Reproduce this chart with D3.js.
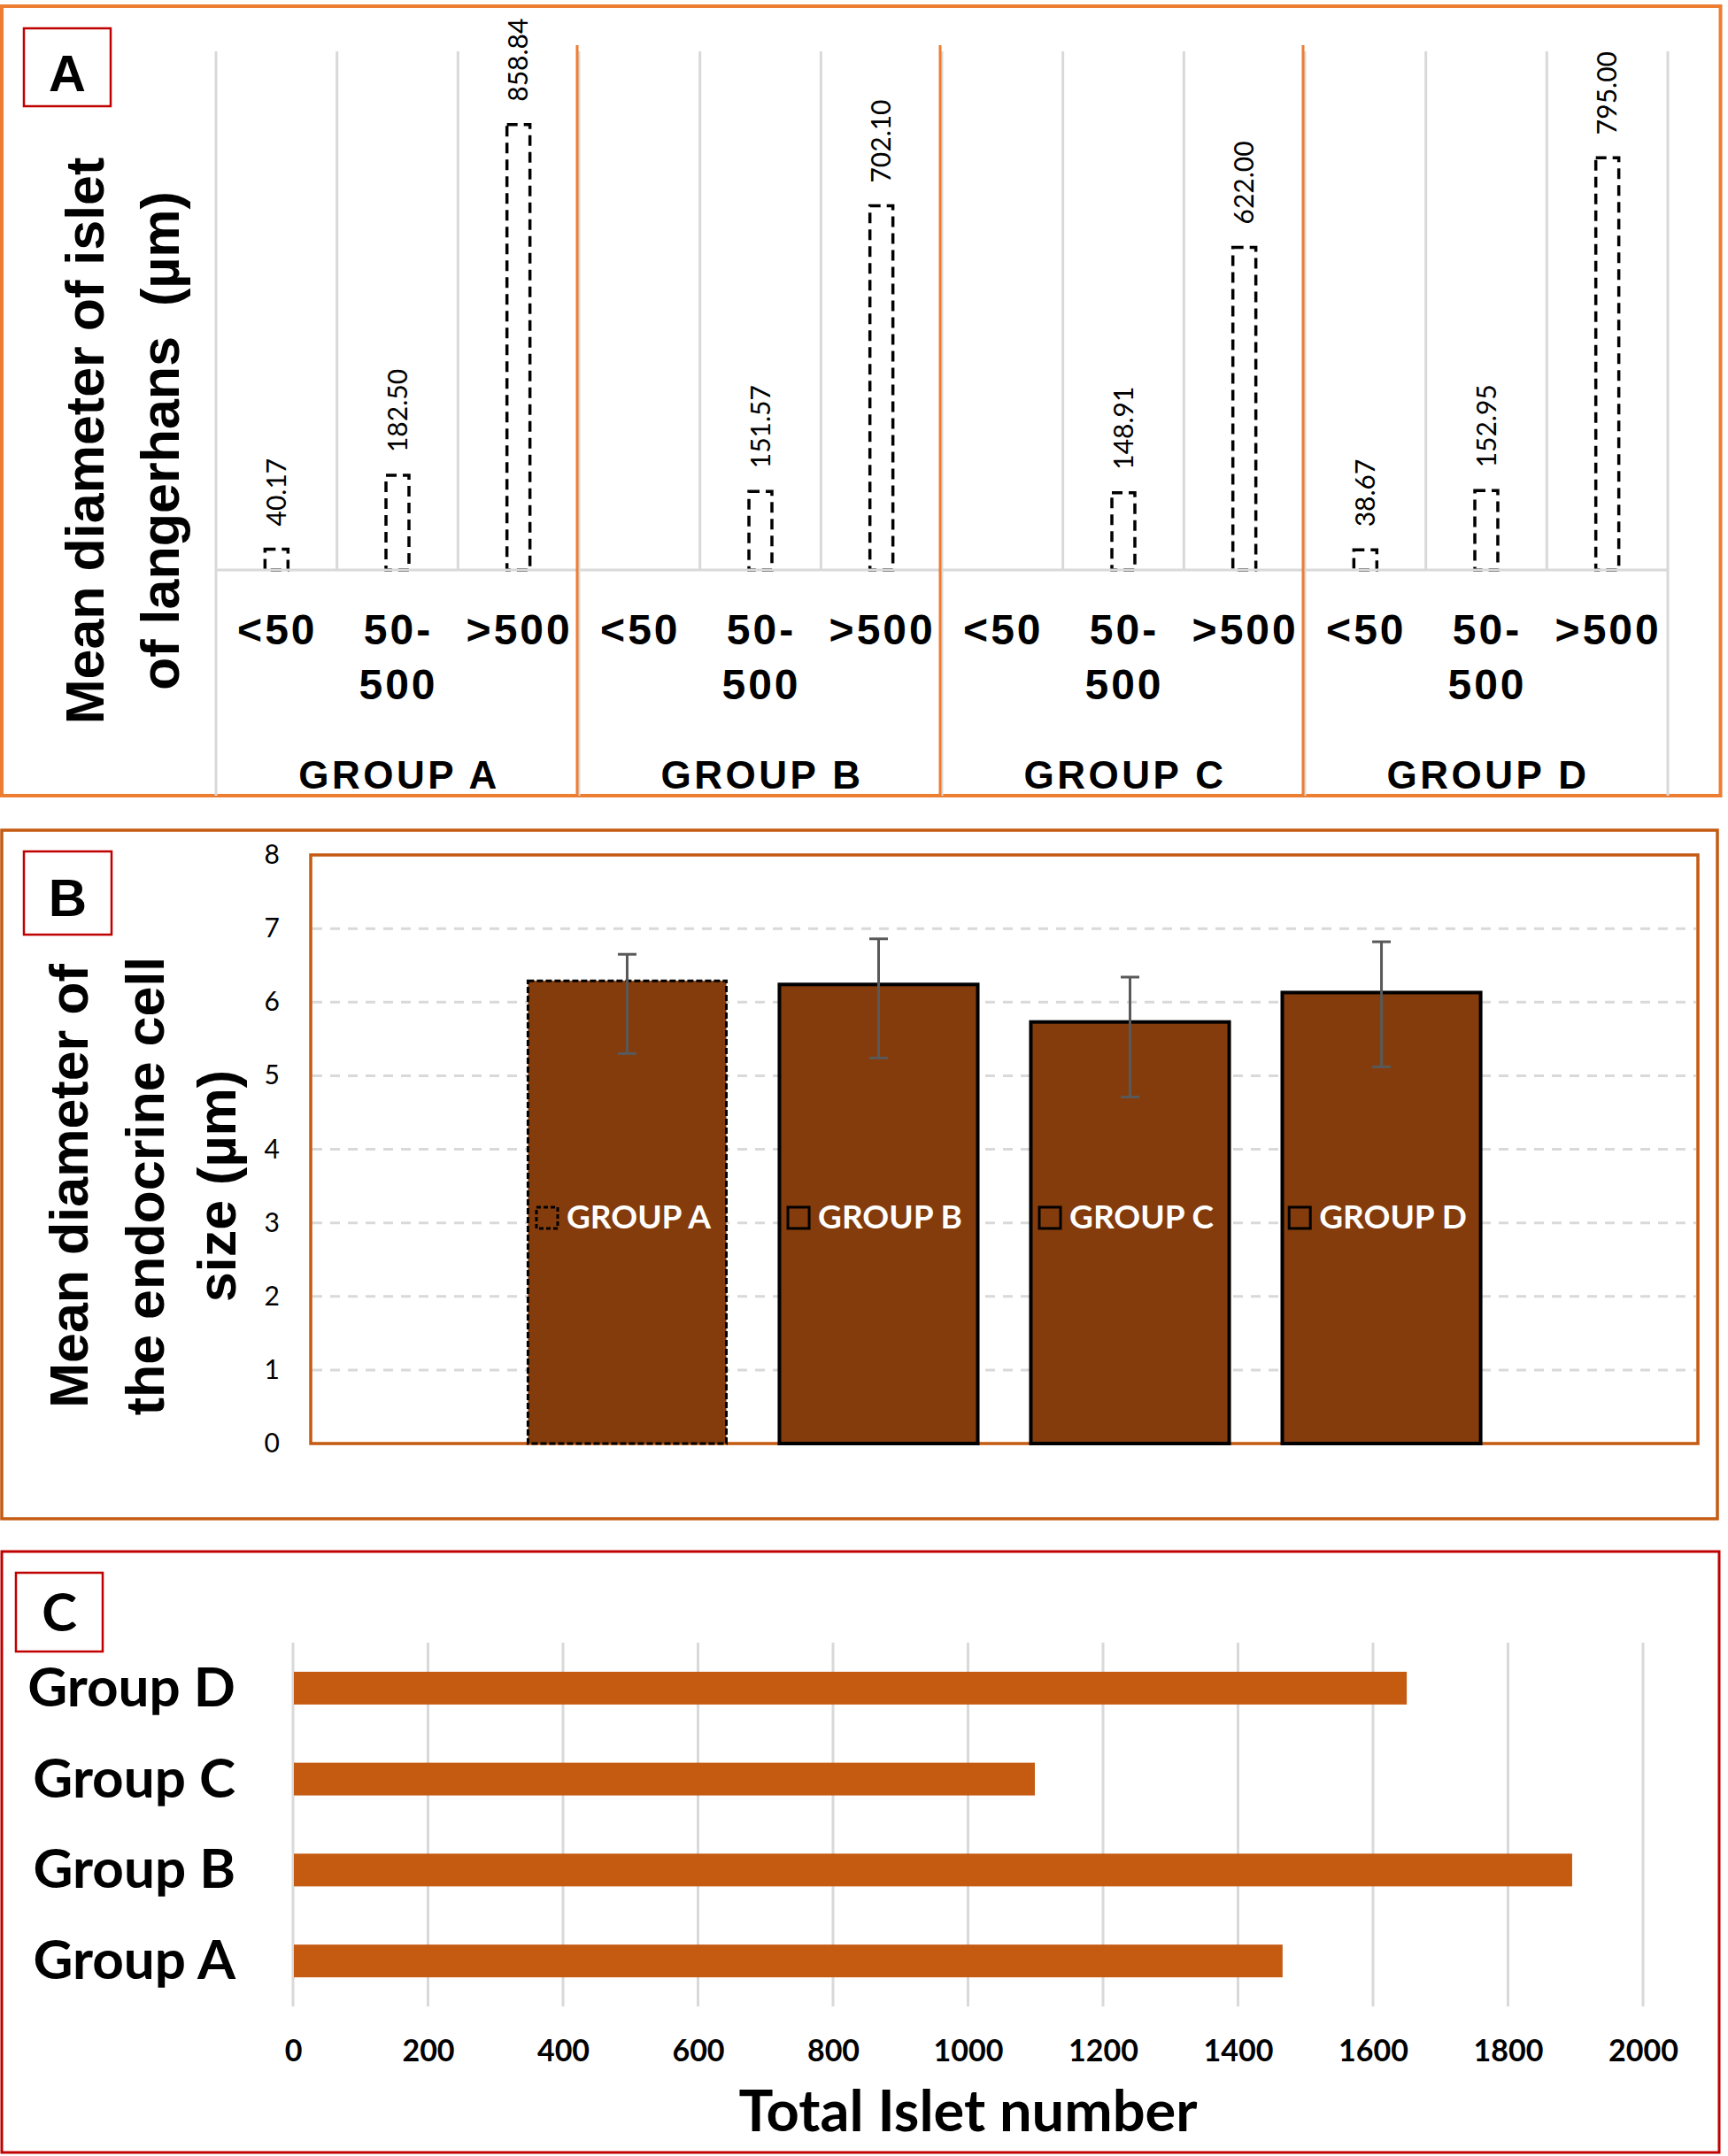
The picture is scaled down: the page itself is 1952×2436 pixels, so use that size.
<!DOCTYPE html>
<html>
<head>
<meta charset="utf-8">
<script src="https://cdn.jsdelivr.net/npm/d3@7"></script>
<style>
  html, body { margin: 0; padding: 0; background: #ffffff; }
  svg { display: block; }
</style>
</head>
<body>
<div id="chart"></div>
<script>
// ---------------- DATA ----------------
// Panel A: mean diameter of islet of langerhans (µm) by size bin
const groupsA = ["GROUP A", "GROUP B", "GROUP C", "GROUP D"];
const binsA = ["<50", "50-500", ">500"];
const binLabelLines = [["<50"], ["50-", "500"], [">500"]];
const isletLt50 = [40.17, null, null, 38.67];
const islet50to500 = [182.50, 151.57, 148.91, 152.95];
const isletGt500 = [858.84, 702.10, 622.00, 795.00];
const yDomainA = [0, 1000];

// Panel B: mean diameter of the endocrine cell size (µm)
const groupsB = ["GROUP A", "GROUP B", "GROUP C", "GROUP D"];
const cellSize = [6.29, 6.24, 5.73, 6.13];
const cellErrHigh = [6.65, 6.86, 6.34, 6.82];
const cellErrLow = [5.30, 5.24, 4.71, 5.12];
const yTicksB = [0, 1, 2, 3, 4, 5, 6, 7, 8];

// Panel C: total islet number
const groupsC = ["Group D", "Group C", "Group B", "Group A"];
const isletCount = [1650, 1099, 1895, 1466];
const xTicksC = [0, 200, 400, 600, 800, 1000, 1200, 1400, 1600, 1800, 2000];

// ---------------- SETUP ----------------
const W = 1952, H = 2436;
const ARIAL = "'Liberation Sans', Arial, Helvetica, sans-serif";
const CALIBRI = "Lato, Carlito, Calibri, sans-serif";
const svg = d3.select("#chart").append("svg")
  .attr("width", W).attr("height", H)
  .attr("viewBox", `0 0 ${W} ${H}`);
svg.append("rect").attr("width", W).attr("height", H).attr("fill", "#ffffff");

function labelBox(x, y, w, h, letter, font, size, baseline) {
  svg.append("rect").attr("x", x).attr("y", y).attr("width", w).attr("height", h)
    .attr("fill", "#ffffff").attr("stroke", "#C00000").attr("stroke-width", 2.5);
  svg.append("text").attr("x", x + w / 2).attr("y", baseline)
    .attr("text-anchor", "middle").attr("font-family", font)
    .attr("font-weight", "bold").attr("font-size", size).attr("fill", "#000")
    .text(letter);
}

// ---------------- PANEL A ----------------
(function () {
  const pA = svg.append("g");
  pA.append("rect").attr("x", 2).attr("y", 7).attr("width", 1941.5).attr("height", 892)
    .attr("fill", "none").attr("stroke", "#ED7D31").attr("stroke-width", 4);

  const top = 58, base = 644, bottom = 899;
  const gx = d3.scaleBand().domain(groupsA).range([244, 1884]).paddingInner(0).paddingOuter(0);
  const bx = d3.scaleBand().domain(binsA).range([0, gx.bandwidth()])
    .paddingInner(0.81).paddingOuter(0.405);
  const y = d3.scaleLinear().domain(yDomainA).range([base, top]);

  // gridlines
  groupsA.forEach((g, gi) => {
    for (let i = 0; i < 3; i++) {
      const x = gx(g) + i * bx.step();
      pA.append("line").attr("x1", x).attr("x2", x)
        .attr("y1", top).attr("y2", i === 0 ? bottom : base)
        .attr("stroke", "#D9D9D9").attr("stroke-width", 3);
    }
  });
  const xEnd = gx.range()[1];
  pA.append("line").attr("x1", xEnd).attr("x2", xEnd).attr("y1", top).attr("y2", bottom)
    .attr("stroke", "#D9D9D9").attr("stroke-width", 3);

  // bars
  const series = [isletLt50, islet50to500, isletGt500];
  groupsA.forEach((g, gi) => {
    binsA.forEach((b, bi) => {
      const v = series[bi][gi];
      if (v === null || v === undefined) return;
      const x0 = gx(g) + bx(b);
      const w = bx.bandwidth();
      pA.append("rect").attr("x", x0).attr("y", y(v)).attr("width", w).attr("height", base - y(v))
        .attr("fill", "#ffffff").attr("stroke", "#000").attr("stroke-width", 3.5)
        .attr("stroke-dasharray", "12,7");
      const cx = x0 + w / 2;
      pA.append("text")
        .attr("transform", `translate(${cx},${y(v) - 26}) rotate(-90)`)
        .attr("dy", "0.36em").attr("text-anchor", "start")
        .attr("font-family", CALIBRI).attr("font-size", 30).attr("fill", "#000")
        .text(d3.format(".2f")(v));
    });
  });

  // baseline
  pA.append("line").attr("x1", gx.range()[0]).attr("x2", xEnd).attr("y1", base).attr("y2", base)
    .attr("stroke", "#D9D9D9").attr("stroke-width", 3);

  // group separators (orange)
  groupsA.slice(1).forEach(g => {
    const x = gx(g) - 2;
    pA.append("line").attr("x1", x).attr("x2", x).attr("y1", 51).attr("y2", bottom)
      .attr("stroke", "#ED7D31").attr("stroke-width", 3);
  });

  // category labels
  groupsA.forEach(g => {
    binsA.forEach((b, bi) => {
      const cx = gx(g) + bx(b) + bx.bandwidth() / 2 + 1;
      binLabelLines[bi].forEach((line, li) => {
        pA.append("text").attr("x", cx).attr("y", 728 + li * 62)
          .attr("text-anchor", "middle").attr("font-family", ARIAL).attr("font-weight", "bold")
          .attr("font-size", 48).attr("letter-spacing", 3).attr("fill", "#000")
          .text(line);
      });
    });
    pA.append("text").attr("x", gx(g) + gx.bandwidth() / 2 + 2).attr("y", 891)
      .attr("text-anchor", "middle").attr("font-family", ARIAL).attr("font-weight", "bold")
      .attr("font-size", 44).attr("letter-spacing", 3.5).attr("fill", "#000")
      .text(g);
  });

  // y title
  const tA = ["Mean diameter of islet", "of langerhans  (µm)"];
  const tAx = [117, 202];
  tA.forEach((t, i) => {
    pA.append("text").attr("transform", `translate(${tAx[i]},498) rotate(-90)`)
      .attr("text-anchor", "middle").attr("font-family", ARIAL).attr("font-weight", "bold")
      .attr("font-size", 61).attr("fill", "#000")
      .style("white-space", "pre")
      .text(t);
  });
})();
labelBox(27, 32, 98, 88, "A", ARIAL, 58, 103);

// ---------------- PANEL B ----------------
(function () {
  const pB = svg.append("g");
  pB.append("rect").attr("x", 2).attr("y", 938).attr("width", 1938).attr("height", 778)
    .attr("fill", "none").attr("stroke", "#C55A11").attr("stroke-width", 3.5);

  const L = 351, R = 1918, T = 966, Bt = 1631;
  const x = d3.scaleBand().domain(groupsB).range([L, R]).paddingInner(0.211).paddingOuter(0.864);
  const y = d3.scaleLinear().domain([0, 8]).range([Bt, T]);

  // gridlines
  yTicksB.filter(t => t > 0 && t < 8).forEach(t => {
    pB.append("line").attr("x1", L + 2).attr("x2", R - 2).attr("y1", y(t)).attr("y2", y(t))
      .attr("stroke", "#D9D9D9").attr("stroke-width", 3).attr("stroke-dasharray", "11,9");
  });

  // plot border
  pB.append("rect").attr("x", L).attr("y", T).attr("width", R - L).attr("height", Bt - T)
    .attr("fill", "none").attr("stroke", "#C55A11").attr("stroke-width", 3.5);

  // axis labels
  const ax = pB.append("g").attr("transform", `translate(${L},0)`)
    .call(d3.axisLeft(y).tickValues(yTicksB).tickSize(0).tickPadding(35).tickFormat(d3.format("d")));
  ax.select(".domain").remove();
  ax.selectAll("text").attr("font-family", CALIBRI).attr("font-size", 30).attr("fill", "#000");

  // bars
  groupsB.forEach((g, i) => {
    const dashed = i === 0;
    pB.append("rect").attr("x", x(g)).attr("y", y(cellSize[i]))
      .attr("width", x.bandwidth()).attr("height", Bt - y(cellSize[i]))
      .attr("fill", "#843C0C").attr("stroke", "#000")
      .attr("stroke-width", dashed ? 3 : 4)
      .attr("stroke-dasharray", dashed ? "7,3" : null);
  });

  // error bars
  groupsB.forEach((g, i) => {
    const cx = x(g) + x.bandwidth() / 2;
    const eg = pB.append("g").attr("stroke", "#595959").attr("stroke-width", 3);
    eg.append("line").attr("x1", cx).attr("x2", cx).attr("y1", y(cellErrHigh[i])).attr("y2", y(cellErrLow[i]));
    [cellErrHigh[i], cellErrLow[i]].forEach(v => {
      eg.append("line").attr("x1", cx - 10.5).attr("x2", cx + 10.5).attr("y1", y(v)).attr("y2", y(v));
    });
  });

  // in-bar labels with legend keys
  const labelY = y(3.08);
  groupsB.forEach((g, i) => {
    const cx = x(g) + x.bandwidth() / 2 - 4;
    const txt = pB.append("text").attr("y", labelY).attr("dy", "0.36em")
      .attr("font-family", CALIBRI).attr("font-weight", "bold").attr("font-size", 37)
      .attr("fill", "#ffffff").text(g);
    const tw = txt.node().getComputedTextLength();
    const key = 24, gap = 10;
    const x0 = cx - (key + gap + tw) / 2;
    txt.attr("x", x0 + key + gap);
    pB.append("rect").attr("x", x0).attr("y", labelY - key / 2 + 1).attr("width", key).attr("height", key)
      .attr("fill", "#843C0C").attr("stroke", "#000").attr("stroke-width", 3)
      .attr("stroke-dasharray", i === 0 ? "5,3" : null);
  });

  // y title
  const tB = ["Mean diameter of", "the endocrine cell", "size (µm)"];
  const tBx = [99, 185, 266];
  tB.forEach((t, i) => {
    pB.append("text").attr("transform", `translate(${tBx[i]},1340) rotate(-90)`)
      .attr("text-anchor", "middle").attr("font-family", ARIAL).attr("font-weight", "bold")
      .attr("font-size", 61).attr("fill", "#000").text(t);
  });
})();
labelBox(27, 962, 99, 94, "B", ARIAL, 60, 1035);

// ---------------- PANEL C ----------------
(function () {
  const pC = svg.append("g");
  pC.append("rect").attr("x", 2).attr("y", 1753).attr("width", 1940).attr("height", 679)
    .attr("fill", "none").attr("stroke", "#C00000").attr("stroke-width", 3);

  const T = 1856, Bt = 2267;
  const x = d3.scaleLinear().domain([0, 2000]).range([331, 1856]);
  const y = d3.scaleBand().domain(groupsC).range([T, Bt]).paddingInner(0.64).paddingOuter(0.32);

  xTicksC.forEach(t => {
    pC.append("line").attr("x1", x(t)).attr("x2", x(t)).attr("y1", T).attr("y2", Bt)
      .attr("stroke", "#D9D9D9").attr("stroke-width", 3);
  });

  groupsC.forEach((g, i) => {
    pC.append("rect").attr("x", x(0) + 1).attr("y", y(g))
      .attr("width", x(isletCount[i]) - x(0) - 1).attr("height", y.bandwidth())
      .attr("fill", "#C55A11");
  });

  const xa = pC.append("g").attr("transform", `translate(0,${Bt})`)
    .call(d3.axisBottom(x).tickValues(xTicksC).tickSize(0).tickPadding(38).tickFormat(d3.format("d")));
  xa.select(".domain").remove();
  xa.selectAll("text").attr("font-family", CALIBRI).attr("font-weight", "bold")
    .attr("font-size", 34).attr("fill", "#000");

  const ya = pC.append("g").attr("transform", `translate(${x(0)},0)`)
    .call(d3.axisLeft(y).tickSize(0).tickPadding(65));
  ya.select(".domain").remove();
  ya.selectAll("text").attr("font-family", CALIBRI).attr("font-weight", "bold")
    .attr("font-size", 62).attr("fill", "#000").attr("dy", "0.33em");

  pC.append("text").attr("x", x(1000)).attr("y", 2408).attr("text-anchor", "middle")
    .attr("font-family", CALIBRI).attr("font-weight", "bold").attr("font-size", 65)
    .attr("fill", "#000").text("Total Islet number");
})();
labelBox(18, 1777, 98, 89, "C", CALIBRI, 60, 1843);
</script>
</body>
</html>
